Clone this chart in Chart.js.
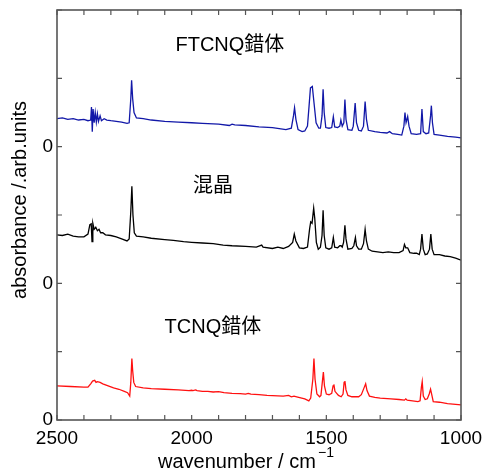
<!DOCTYPE html>
<html>
<head>
<meta charset="utf-8">
<script src="https://cdn.jsdelivr.net/npm/chart.js@4.4.1/dist/chart.umd.min.js"></script>
<style>
  html, body { margin: 0; padding: 0; background: #fff; }
  #chart { display: block; }
</style>
</head>
<body>
<canvas id="chart" width="484" height="472"></canvas>
<script>
// FTCNQ complex (offset +4)
const ftcnqWn = [2500, 2480, 2460, 2440, 2420, 2400, 2385, 2375, 2372, 2369, 2366, 2362, 2358, 2354, 2350, 2346, 2340, 2335, 2325, 2315, 2300, 2280, 2260, 2240, 2232, 2226, 2223, 2219, 2214, 2205, 2180, 2150, 2100, 2050, 2000, 1960, 1900, 1860, 1850, 1840, 1800, 1750, 1700, 1650, 1630, 1622, 1618, 1613, 1605, 1590, 1580, 1570, 1564, 1559, 1552, 1546, 1538, 1528, 1522, 1516, 1512, 1508, 1502, 1490, 1480, 1474, 1469, 1458, 1450, 1446, 1441, 1435, 1431, 1427, 1420, 1405, 1400, 1393, 1388, 1380, 1370, 1362, 1356, 1351, 1344, 1320, 1300, 1275, 1265, 1255, 1235, 1220, 1212, 1208, 1204, 1198, 1193, 1185, 1165, 1150, 1145, 1140, 1130, 1120, 1113, 1110, 1106, 1100, 1080, 1050, 1020, 1000];
const ftcnqAbs = [4.41, 4.42, 4.40, 4.41, 4.39, 4.40, 4.38, 4.39, 4.58, 4.22, 4.55, 4.35, 4.50, 4.36, 4.48, 4.37, 4.45, 4.38, 4.41, 4.39, 4.38, 4.37, 4.36, 4.34, 4.35, 4.70, 4.97, 4.70, 4.50, 4.42, 4.41, 4.39, 4.37, 4.36, 4.35, 4.34, 4.33, 4.31, 4.33, 4.32, 4.31, 4.29, 4.28, 4.25, 4.27, 4.45, 4.57, 4.40, 4.25, 4.22, 4.23, 4.30, 4.60, 4.86, 4.88, 4.65, 4.35, 4.27, 4.27, 4.45, 4.84, 4.50, 4.28, 4.27, 4.28, 4.44, 4.29, 4.28, 4.30, 4.39, 4.30, 4.35, 4.69, 4.40, 4.25, 4.24, 4.30, 4.64, 4.35, 4.24, 4.23, 4.30, 4.66, 4.40, 4.24, 4.22, 4.21, 4.20, 4.22, 4.19, 4.18, 4.17, 4.30, 4.50, 4.35, 4.44, 4.30, 4.19, 4.18, 4.19, 4.55, 4.22, 4.19, 4.20, 4.45, 4.60, 4.35, 4.18, 4.17, 4.15, 4.14, 4.13];

// mixed crystal (offset +2)
const mixWn = [2500, 2480, 2460, 2440, 2420, 2400, 2385, 2378, 2373, 2370, 2367, 2362, 2356, 2350, 2344, 2338, 2330, 2320, 2300, 2280, 2260, 2240, 2232, 2226, 2222, 2218, 2213, 2205, 2180, 2150, 2100, 2068, 2030, 2000, 1960, 1920, 1883, 1850, 1800, 1760, 1740, 1735, 1700, 1680, 1660, 1640, 1625, 1619, 1613, 1600, 1585, 1570, 1562, 1558, 1553, 1547, 1543, 1537, 1530, 1522, 1516, 1512, 1508, 1502, 1490, 1480, 1474, 1469, 1458, 1450, 1445, 1441, 1436, 1431, 1427, 1420, 1405, 1398, 1392, 1388, 1380, 1370, 1362, 1356, 1351, 1344, 1330, 1310, 1290, 1270, 1250, 1230, 1215, 1210, 1205, 1198, 1190, 1175, 1165, 1155, 1150, 1145, 1140, 1133, 1125, 1117, 1112, 1107, 1100, 1080, 1060, 1040, 1020, 1000];
const mixAbs = [2.71, 2.70, 2.72, 2.69, 2.68, 2.68, 2.72, 2.86, 2.87, 2.61, 2.88, 2.79, 2.82, 2.77, 2.79, 2.74, 2.74, 2.71, 2.70, 2.68, 2.65, 2.62, 2.65, 3.05, 3.42, 3.00, 2.74, 2.69, 2.68, 2.66, 2.64, 2.63, 2.61, 2.60, 2.59, 2.58, 2.56, 2.55, 2.54, 2.53, 2.56, 2.53, 2.51, 2.53, 2.51, 2.54, 2.60, 2.72, 2.62, 2.52, 2.51, 2.53, 2.80, 2.90, 2.88, 3.10, 2.95, 2.60, 2.50, 2.53, 2.70, 3.07, 2.70, 2.52, 2.50, 2.52, 2.67, 2.53, 2.52, 2.55, 2.55, 2.53, 2.60, 2.85, 2.65, 2.50, 2.51, 2.55, 2.67, 2.55, 2.50, 2.50, 2.58, 2.79, 2.62, 2.50, 2.47, 2.46, 2.45, 2.46, 2.45, 2.45, 2.48, 2.57, 2.52, 2.52, 2.45, 2.44, 2.44, 2.42, 2.50, 2.72, 2.50, 2.42, 2.43, 2.50, 2.72, 2.50, 2.42, 2.42, 2.40, 2.39, 2.37, 2.34];

// TCNQ complex (offset 0)
const tcnqWn = [2500, 2450, 2400, 2385, 2375, 2368, 2360, 2355, 2350, 2340, 2330, 2310, 2290, 2270, 2250, 2238, 2230, 2226, 2222, 2219, 2215, 2208, 2180, 2150, 2100, 2050, 2010, 2000, 1995, 1985, 1980, 1960, 1940, 1920, 1900, 1880, 1850, 1820, 1800, 1790, 1780, 1750, 1720, 1660, 1640, 1630, 1620, 1610, 1580, 1565, 1558, 1550, 1546, 1542, 1535, 1525, 1520, 1515, 1511, 1507, 1500, 1490, 1480, 1475, 1472, 1468, 1455, 1445, 1438, 1434, 1431, 1427, 1420, 1405, 1390, 1380, 1370, 1360, 1354, 1349, 1340, 1320, 1300, 1260, 1230, 1210, 1205, 1200, 1180, 1160, 1152, 1147, 1144, 1140, 1133, 1125, 1118, 1113, 1109, 1103, 1080, 1050, 1020, 1000];
const tcnqAbs = [0.50, 0.49, 0.48, 0.48, 0.53, 0.57, 0.58, 0.55, 0.56, 0.55, 0.53, 0.50, 0.47, 0.45, 0.42, 0.40, 0.35, 0.55, 0.90, 0.72, 0.55, 0.49, 0.47, 0.46, 0.45, 0.44, 0.43, 0.435, 0.43, 0.44, 0.43, 0.42, 0.42, 0.41, 0.415, 0.40, 0.39, 0.385, 0.38, 0.39, 0.38, 0.37, 0.36, 0.35, 0.36, 0.34, 0.35, 0.34, 0.31, 0.28, 0.32, 0.60, 0.90, 0.60, 0.38, 0.34, 0.36, 0.55, 0.70, 0.50, 0.38, 0.37, 0.39, 0.50, 0.52, 0.42, 0.36, 0.34, 0.38, 0.55, 0.57, 0.44, 0.36, 0.34, 0.34, 0.34, 0.37, 0.47, 0.53, 0.43, 0.35, 0.33, 0.32, 0.31, 0.30, 0.29, 0.31, 0.29, 0.28, 0.27, 0.28, 0.48, 0.56, 0.35, 0.30, 0.31, 0.38, 0.45, 0.38, 0.27, 0.26, 0.24, 0.23, 0.22];

const sampleNames = ["FTCNQ錯体", "混晶", "TCNQ錯体"];
const xTickLabels = [2500, 2000, 1500, 1000];
const yZeroTicks = [0, 2, 4];

const FONT = '"Liberation Sans", Arial, "Noto Sans CJK JP", sans-serif';

function toPoints(xs, ys) {
    return xs.map((x, i) => ({ x: x, y: ys[i] }));
}

const frameAndLabels = {
    id: "frameAndLabels",
    afterDraw(chart) {
        const ctx = chart.ctx;
        const xs = chart.scales.x;
        const ys = chart.scales.y;
        const a = chart.chartArea;
        ctx.save();
        // frame
        ctx.strokeStyle = "#555";
        ctx.lineWidth = 1.6;
        ctx.strokeRect(a.left, a.top, a.right - a.left, a.bottom - a.top);
        // inward ticks
        ctx.lineWidth = 1.2;
        ctx.beginPath();
        for (let v = 1000; v <= 2500; v += 100) {
            const px = xs.getPixelForValue(v);
            ctx.moveTo(px, a.bottom); ctx.lineTo(px, a.bottom - 5);
            ctx.moveTo(px, a.top); ctx.lineTo(px, a.top + 5);
        }
        for (let v = 0; v <= 6; v++) {
            const py = ys.getPixelForValue(v);
            ctx.moveTo(a.left, py); ctx.lineTo(a.left + 5, py);
            ctx.moveTo(a.right, py); ctx.lineTo(a.right - 5, py);
        }
        ctx.stroke();

        // sample names
        ctx.fillStyle = "#000";
        ctx.font = "20px " + FONT;
        ctx.textAlign = "center";
        ctx.textBaseline = "middle";
        ctx.fillText(sampleNames[0], xs.getPixelForValue(1858), ys.getPixelForValue(5.48));
        ctx.fillText(sampleNames[1], xs.getPixelForValue(1921), ys.getPixelForValue(3.42));
        ctx.fillText(sampleNames[2], xs.getPixelForValue(1921), ys.getPixelForValue(1.35));

        // axis titles
        ctx.textAlign = "left";
        ctx.textBaseline = "alphabetic";
        ctx.fillText("wavenumber / cm", 158, 468);
        ctx.font = "14px " + FONT;
        ctx.fillText("\u22121", 318, 457);

        ctx.font = "20px " + FONT;
        ctx.translate(20, 200);
        ctx.rotate(-Math.PI / 2);
        ctx.textAlign = "center";
        ctx.textBaseline = "middle";
        ctx.fillText("absorbance /.arb.units", 0, 0);
        ctx.restore();
    }
};

const lineStyle = { borderWidth: 1.3, pointRadius: 0, tension: 0, fill: false };

new Chart(document.getElementById("chart").getContext("2d"), {
    type: "line",
    data: {
        datasets: [
            Object.assign({ label: sampleNames[0], data: toPoints(ftcnqWn, ftcnqAbs), borderColor: "#1218a8" }, lineStyle),
            Object.assign({ label: sampleNames[1], data: toPoints(mixWn, mixAbs), borderColor: "#000000" }, lineStyle),
            Object.assign({ label: sampleNames[2], data: toPoints(tcnqWn, tcnqAbs), borderColor: "#ff1010" }, lineStyle),
        ],
    },
    options: {
        responsive: false,
        animation: false,
        layout: { padding: { top: 10, right: 23, left: 0, bottom: 0 } },
        plugins: { legend: { display: false }, tooltip: { enabled: false } },
        scales: {
            x: {
                type: "linear",
                reverse: true,
                min: 1000,
                max: 2500,
                grid: { display: false, drawTicks: false },
                border: { display: false },
                afterFit: (s) => { s.height = 52; s.paddingLeft = 0; s.paddingRight = 0; },
                ticks: {
                    stepSize: 100,
                    autoSkip: false,
                    maxRotation: 0,
                    padding: 7,
                    color: "#000",
                    font: { family: FONT, size: 19 },
                    callback: (v) => (xTickLabels.includes(v) ? String(v) : ""),
                },
            },
            y: {
                type: "linear",
                min: 0,
                max: 6,
                grid: { display: false, drawTicks: false },
                border: { display: false },
                afterFit: (s) => { s.width = 57; s.paddingTop = 0; s.paddingBottom = 0; },
                ticks: {
                    stepSize: 1,
                    padding: 4,
                    color: "#000",
                    font: { family: FONT, size: 19 },
                    callback: (v) => (yZeroTicks.includes(v) ? "0" : ""),
                },
            },
        },
    },
    plugins: [frameAndLabels],
});
</script>
</body>
</html>
